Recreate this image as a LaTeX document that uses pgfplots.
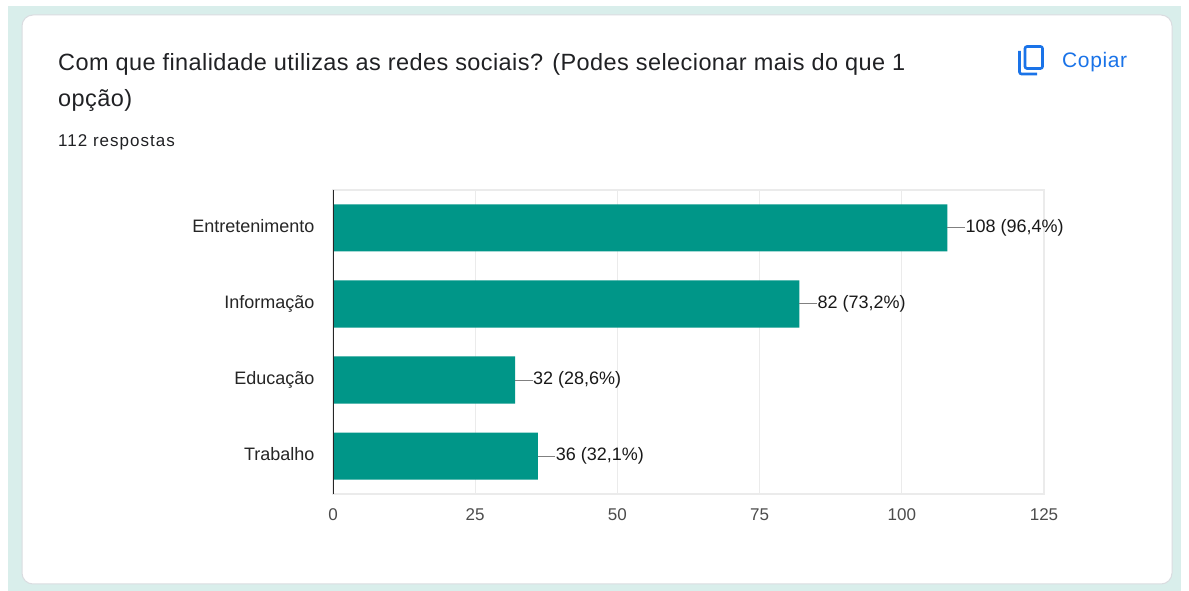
\documentclass[border=0pt]{standalone}
\usepackage{pgfplots}
\pgfplotsset{compat=1.18}
\usepackage{fontspec}
\setmainfont{Liberation Sans}
\definecolor{pageteal}{HTML}{D9EEEB}
\definecolor{cardedge}{HTML}{DADCE0}
\definecolor{bar}{HTML}{009688}
\definecolor{gridg}{HTML}{EBEBEB}
\definecolor{titlec}{HTML}{202124}
\definecolor{blue1}{HTML}{1A73E8}
\begin{document}
\begin{tikzpicture}[x=1pt,y=1pt]
\useasboundingbox (0,0) rectangle (1189,591);
\fill[white] (0,0) rectangle (1189,591);
\fill[pageteal] (8,0) rectangle (1181,585);
\draw[cardedge,line width=1pt,fill=white,rounded corners=11pt] (22,7) rectangle (1172,576);
\node[anchor=base west,inner sep=0pt,text=titlec] at (58,520) {\fontsize{23.5}{26}\selectfont\addfontfeatures{LetterSpace=1.8}Com que finalidade utilizas as redes sociais? (Podes selecionar mais do que 1};
\node[anchor=base west,inner sep=0pt,text=titlec] at (58,484) {\fontsize{23.5}{26}\selectfont\addfontfeatures{LetterSpace=1.8}opção)};
\node[anchor=base west,inner sep=0pt,text=titlec] at (58,444) {\fontsize{17}{20}\selectfont\addfontfeatures{LetterSpace=6}112 respostas};
\node[anchor=base west,inner sep=0pt,text=blue1] at (1062,523) {\fontsize{21}{24}\selectfont\addfontfeatures{LetterSpace=3}Copiar};
\draw[blue1,line width=2.6pt,rounded corners=2pt] (1025,544.5) rectangle (1042.5,522.5);
\draw[blue1,line width=2.6pt,rounded corners=2pt] (1019.5,540) -- (1019.5,517) -- (1037,517);
\begin{axis}[
  at={(333pt,97pt)},anchor=south west,
  scale only axis,width=711pt,height=304pt,
  xmin=0,xmax=125,ymin=-0.5,ymax=3.5,y dir=reverse,
  xtick={0,25,50,75,100,125},
  ytick={0,1,2,3},
  yticklabels={Entretenimento,Informação,Educação,Trabalho},
  major tick length=0pt,
  xmajorgrids,grid style={gridg,line width=1.2pt},
  axis line style={gridg,line width=1.2pt},
  tick label style={font=\fontsize{17}{20}\selectfont},
  xticklabel style={text=black!70,yshift=-11pt},
  yticklabel style={text=black!85,font=\fontsize{18}{20}\selectfont,xshift=-15pt,text height=13pt,text depth=4pt},
  /pgf/number format/assume math mode=true,
  clip=false,
]
\addplot[xbar,bar width=47pt,fill=bar,draw=none,bar shift=0pt,
  point meta=explicit symbolic,
  error bars/.cd,x dir=plus,x fixed=3.1,error mark=none,
  error bar style={black!50,line width=1pt},
] coordinates {(108,0) (82,1) (32,2) (36,3)};
\addplot[only marks,mark=none,
  point meta=explicit symbolic,
  nodes near coords,
  every node near coord/.append style={anchor=west,inner sep=0pt,xshift=18pt,text=black!90,font=\fontsize{18}{20}\selectfont,text height=13pt,text depth=4pt},
] coordinates {(108,0) [108 (96,4\%)] (82,1) [82 (73,2\%)] (32,2) [32 (28,6\%)] (36,3) [36 (32,1\%)]};
\draw[black!85,line width=1pt] (axis cs:0,-0.5) -- (axis cs:0,3.5);
\end{axis}
\end{tikzpicture}
\end{document}
